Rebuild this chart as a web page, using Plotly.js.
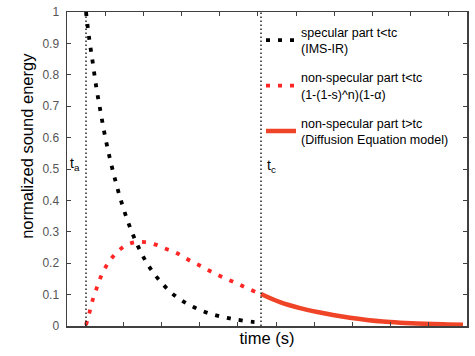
<!DOCTYPE html>
<html>
<head>
<meta charset="utf-8">
<script src="https://cdn.plot.ly/plotly-3.0.1.min.js"></script>
<style>html,body{margin:0;padding:0;background:#fff;}#chart{width:475px;height:356px;}</style>
</head>
<body>
<div id="chart"></div>
<script>
// time in arbitrary units (ms-like), axis range 0..400
const tA = 19;   // t_a
const tC = 194;  // t_c

const specT = [19,22,25.7,29.3,33.3,37.7,42.7,48.3,54.7,62,70.7,80.7,92.3,107.3,123.7,142.3,163,185.7,190];
const specE = [1.0,0.92,0.84,0.76,0.687,0.61,0.536,0.464,0.392,0.323,0.256,0.196,0.146,0.098,0.065,0.04,0.024,0.013,0.012];

const nonSpecT = [19,22.3,25.3,29,32.7,37.3,42.7,49,57,66.7,78,88.7,98.7,108,116.3,125.3,134.3,143,152,161,170.3,179.7,189.7,194];
const nonSpecE = [0.003,0.041,0.079,0.114,0.148,0.18,0.208,0.232,0.253,0.266,0.267,0.259,0.246,0.235,0.22,0.204,0.19,0.175,0.161,0.148,0.135,0.121,0.107,0.102];

const diffT = [194,213,233,253,266,283,300,316,333,350,366,381,396];
const diffE = [0.102,0.076,0.057,0.043,0.035,0.026,0.019,0.014,0.0105,0.008,0.006,0.005,0.004];

const legendNames = [
  'specular part t&lt;tc<br>(IMS-IR)',
  'non-specular part t&lt;tc<br>(1-(1-s)^n)(1-α)',
  'non-specular part t&gt;tc<br>(Diffusion Equation model)'
];

const FONT = 'Liberation Sans, Arial, Helvetica, sans-serif';
const xRange = [0, 400];

const traces = [
  {x: specT, y: specE, mode: 'lines', name: legendNames[0], legendgroup: 'a', xaxis: 'x2',
   line: {color: '#000000', width: 3.8, dash: '4px,8px', shape: 'spline'}},
  {x: nonSpecT, y: nonSpecE, mode: 'lines', name: legendNames[1], legendgroup: 'b',
   line: {color: 'rgb(255,38,38)', width: 3.8, dash: '4px,8px', shape: 'spline'}},
  {x: diffT, y: diffE, mode: 'lines', name: legendNames[2], legendgroup: 'c',
   line: {color: 'rgb(240,68,40)', width: 4.5, shape: 'spline'}}
];

const axisColor = '#404040';
const layout = {
  width: 475, height: 356,
  margin: {l: 67, r: 8, t: 12, b: 30, pad: 0},
  paper_bgcolor: '#fff', plot_bgcolor: '#fff',
  font: {family: FONT, size: 12, color: '#000'},
  showlegend: true,
  legend: {x: 0.485, y: 0.983, xanchor: 'left', yanchor: 'top', bgcolor: 'rgba(0,0,0,0)',
           font: {family: FONT, size: 12.5, color: '#000'}, tracegroupgap: 10, itemwidth: 30},
  xaxis: {range: xRange, showgrid: false, zeroline: false, showline: true, linecolor: axisColor, linewidth: 1.5,
          ticks: 'inside', ticklen: 4, tickcolor: axisColor, tickwidth: 1, tick0: 18, dtick: 38.2,
          showticklabels: false, mirror: false,
          title: {text: 'time (s)', font: {family: FONT, size: 16.5, color: '#000'}, standoff: 6}},
  xaxis2: {range: xRange, overlaying: 'x', side: 'top', showgrid: false, zeroline: false, showline: true,
           linecolor: axisColor, linewidth: 1.5, ticks: 'inside', ticklen: 4, tickcolor: axisColor, tickwidth: 1,
           tick0: 38, dtick: 38.2, showticklabels: false},
  yaxis: {range: [0, 1], showgrid: false, zeroline: false, showline: true, linecolor: axisColor, linewidth: 1.5,
          ticks: 'inside', ticklen: 4, tickcolor: axisColor, tickwidth: 1, dtick: 0.1, tick0: 0,
          mirror: 'ticks', ticklabelstandoff: 4,
          tickfont: {family: FONT, size: 12, color: '#555'}},
  shapes: [
    {type: 'line', xref: 'x', yref: 'paper', x0: tA, x1: tA, y0: 0, y1: 1,
     line: {color: '#000', width: 1.3, dash: '1.5px,2.5px'}},
    {type: 'line', xref: 'x', yref: 'paper', x0: tC, x1: tC, y0: 0, y1: 1,
     line: {color: '#000', width: 1.3, dash: '1.5px,2.5px'}}
  ],
  annotations: [
    {text: 'normalized sound energy', textangle: -90, xref: 'paper', yref: 'paper',
     x: -0.099, y: 0.575, xanchor: 'center', yanchor: 'middle', showarrow: false,
     font: {family: FONT, size: 16.5, color: '#000'}},
    {text: 't<sub>a</sub>', xref: 'x', yref: 'paper', x: tA, y: 0.515, xanchor: 'right', yanchor: 'middle',
     xshift: -4, showarrow: false, font: {family: FONT, size: 14, color: '#000'}},
    {text: 't<sub>c</sub>', xref: 'x', yref: 'paper', x: tC, y: 0.51, xanchor: 'left', yanchor: 'middle',
     xshift: 4, showarrow: false, font: {family: FONT, size: 14, color: '#000'}}
  ]
};

Plotly.newPlot('chart', traces, layout, {staticPlot: true, displayModeBar: false});
</script>
</body>
</html>
